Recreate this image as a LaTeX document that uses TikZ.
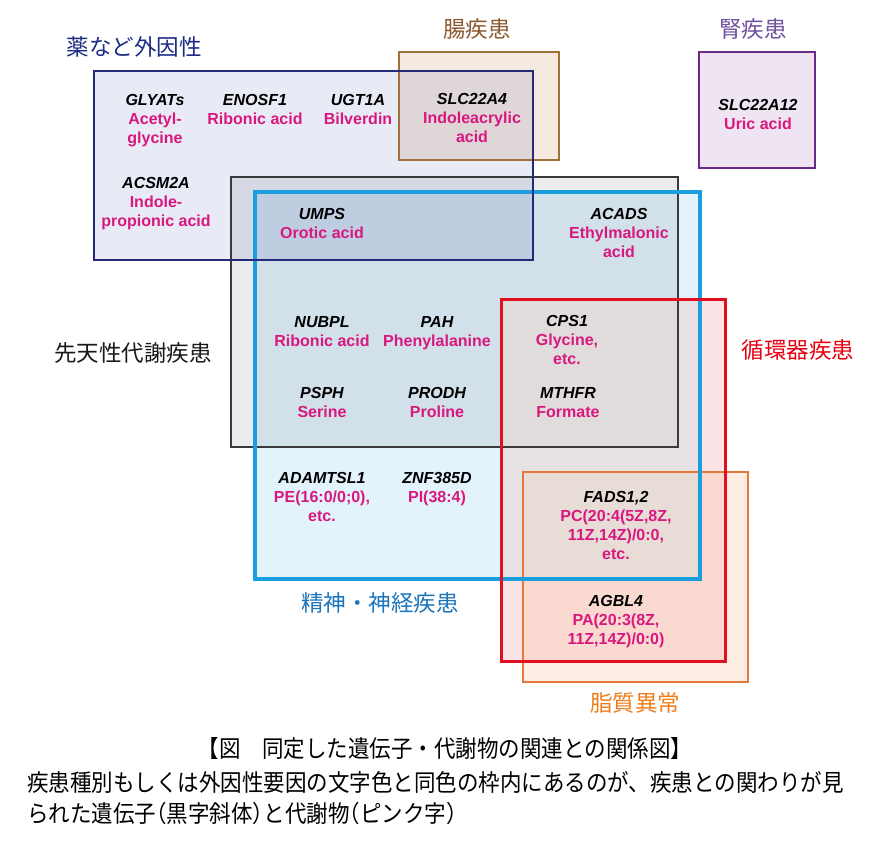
\documentclass[tikz,border=0pt]{standalone}
\usepackage{fontspec}
\setmainfont{Liberation Sans}
\newfontfamily\jpfont{Noto Sans CJK JP}
\definecolor{metpink}{HTML}{D9187F}
\definecolor{navyline}{HTML}{242A78}
\definecolor{navylab}{HTML}{1D2C86}
\definecolor{navyfill}{HTML}{E8EAF6}
\definecolor{brownline}{HTML}{A0703C}
\definecolor{brownlab}{HTML}{8C5A2E}
\definecolor{brownfill}{HTML}{F6EAE0}
\definecolor{purpline}{HTML}{6B2A85}
\definecolor{purplab}{HTML}{7050A0}
\definecolor{purpfill}{HTML}{EFE4F1}
\definecolor{greyline}{HTML}{3A3A3A}
\definecolor{greyfill}{HTML}{ECECEC}
\definecolor{blueline}{HTML}{1A9EE0}
\definecolor{bluelab}{HTML}{1B75BC}
\definecolor{bluefill}{HTML}{E3F3FC}
\definecolor{redline}{HTML}{E10F1F}
\definecolor{redlab}{HTML}{E60012}
\definecolor{redfill}{RGB}{251,228,230}
\definecolor{redbluefill}{RGB}{233,226,228}
\definecolor{redbluegreyfill}{RGB}{224,220,220}
\definecolor{orangeline}{HTML}{E2783A}
\definecolor{orangelab}{HTML}{EF7D1A}
\definecolor{orangefill}{RGB}{253,237,228}
\definecolor{orangeredfill}{RGB}{249,217,208}
\definecolor{orangeredbluefill}{RGB}{231,221,214}
\newcommand\genename[1]{{\color{black}\itshape #1}}
\newcommand\hwopen{\makebox[0.5em][r]{（}}
\newcommand\hwclose{\makebox[0.5em][l]{）}}
\begin{document}
\begin{tikzpicture}[x=1pt,y=-1pt,
  entry/.style={anchor=north, align=center, inner sep=0pt,
    font=\fontsize{16}{19}\selectfont\bfseries, text=metpink},
  grouplabel/.style={inner sep=0pt, font=\jpfont\fontsize{22.5}{26}\selectfont},
  captionline/.style={inner sep=0pt, font=\jpfont\fontsize{21.5}{26}\selectfont, text=black}]
\useasboundingbox[fill=white] (0,0) rectangle (890,849);

% fills
\begin{scope}[blend mode=multiply]
\fill[navyfill] (94,71) rectangle (533,260);
\fill[brownfill] (399,52) rectangle (559,160);
\fill[purpfill] (699,52) rectangle (815,168);
\fill[greyfill] (231,177) rectangle (678,447);
\fill[bluefill] (255,192) rectangle (700,579);
\end{scope}
% red / orange areas and their overlaps
\fill[orangefill] (523,472) rectangle (748,682);
\fill[redfill] (501,299) rectangle (725,661);
\fill[redbluefill] (501,299) rectangle (700,579);
\fill[redbluegreyfill] (501,299) rectangle (678,447);
\fill[orangeredfill] (523,472) rectangle (725,661);
\fill[orangeredbluefill] (523,472) rectangle (700,579);

% borders
\draw[greyline, line width=2pt] (231,177) rectangle (678,447);
\draw[orangeline, line width=2pt] (523,472) rectangle (748,682);
\draw[brownline, line width=2pt] (399,52) rectangle (559,160);
\draw[purpline, line width=2.5pt] (699,52) rectangle (815,168);
\draw[blueline, line width=3.5pt] (255,192) rectangle (700,579);
\draw[navyline, line width=1.6pt] (94,71) rectangle (533,260);
\draw[redline, line width=3pt] (501,299) rectangle (725,661);

% group labels
\node[grouplabel, text=navylab] (lab-drug) at (134,47) {薬など外因性};
\node[grouplabel, text=brownlab] (lab-gut) at (477,29) {腸疾患};
\node[grouplabel, text=purplab] (lab-kidney) at (753,29) {腎疾患};
\node[grouplabel, text=black!90] (lab-inborn) at (133,353) {先天性代謝疾患};
\node[grouplabel, text=redlab] (lab-cardio) at (798,350) {循環器疾患};
\node[grouplabel, text=bluelab] (lab-neuro) at (380,603) {精神・神経疾患};
\node[grouplabel, text=orangelab] (lab-lipid) at (635,703) {脂質異常};

% entries
\node[entry] (glyats) at (155,94.3) {\genename{GLYATs}\\Acetyl-\\glycine};
\node[entry] (enosf1) at (255,94.3) {\genename{ENOSF1}\\Ribonic acid};
\node[entry] (ugt1a) at (358,94.3) {\genename{UGT1A}\\Bilverdin};
\node[entry] (slc22a4) at (472,93.3) {\genename{SLC22A4}\\Indoleacrylic\\acid};
\node[entry] (slc22a12) at (758,99.3) {\genename{SLC22A12}\\Uric acid};
\node[entry] (acsm2a) at (156,177.3) {\genename{ACSM2A}\\Indole-\\propionic acid};
\node[entry] (umps) at (322,208.3) {\genename{UMPS}\\Orotic acid};
\node[entry] (acads) at (619,208.3) {\genename{ACADS}\\Ethylmalonic\\acid};
\node[entry] (nubpl) at (322,316.3) {\genename{NUBPL}\\Ribonic acid};
\node[entry] (pah) at (437,316.3) {\genename{PAH}\\Phenylalanine};
\node[entry] (cps1) at (567,315.3) {\genename{CPS1}\\Glycine,\\etc.};
\node[entry] (psph) at (322,387.3) {\genename{PSPH}\\Serine};
\node[entry] (prodh) at (437,387.3) {\genename{PRODH}\\Proline};
\node[entry] (mthfr) at (568,387.3) {\genename{MTHFR}\\Formate};
\node[entry] (adamtsl1) at (322,472.3) {\genename{ADAMTSL1}\\PE(16:0/0;0),\\etc.};
\node[entry] (znf385d) at (437,472.3) {\genename{ZNF385D}\\PI(38:4)};
\node[entry] (fads) at (616,491.3) {\genename{FADS1,2}\\PC(20:4(5Z,8Z,\\11Z,14Z)/0:0,\\etc.};
\node[entry] (agbl4) at (616,595.3) {\genename{AGBL4}\\PA(20:3(8Z,\\11Z,14Z)/0:0)};

% caption
\node[captionline] (cap1) at (445,748) {\scalebox{1}[1.1]{【図　同定した遺伝子・代謝物の関連との関係図】}};
\node[captionline, anchor=west] (cap2) at (27,782) {\scalebox{1}[1.1]{疾患種別もしくは外因性要因の文字色と同色の枠内にあるのが、疾患との関わりが見}};
\node[captionline, anchor=west] (cap3) at (27,813) {\scalebox{1}[1.1]{られた遺伝子\hwopen 黒字斜体\hwclose と代謝物\hwopen ピンク字\hwclose}};
\end{tikzpicture}
\end{document}
